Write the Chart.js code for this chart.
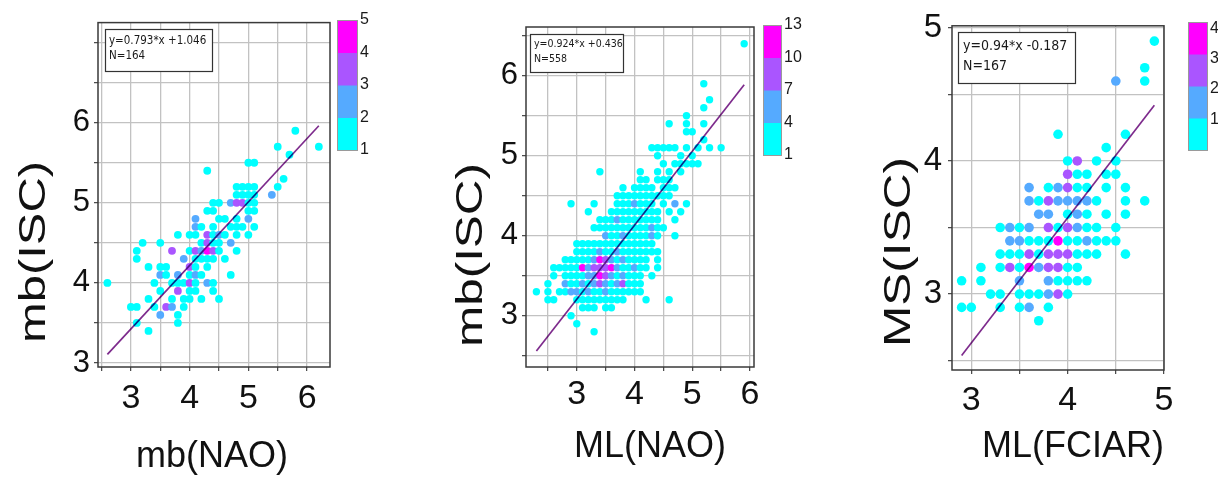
<!DOCTYPE html>
<html>
<head>
<meta charset="utf-8">
<script src="https://cdn.jsdelivr.net/npm/chart.js@4.4.1/dist/chart.umd.min.js"></script>
<style>
  html, body { margin: 0; padding: 0; background: #ffffff; }
  body { width: 1218px; height: 478px; position: relative; overflow: hidden; }
  canvas { position: absolute; top: 0; }
</style>
</head>
<body>
<canvas id="c1" width="400" height="478" style="left:0px;width:400px;height:478px"></canvas>
<canvas id="c2" width="410" height="478" style="left:400px;width:410px;height:478px"></canvas>
<canvas id="c3" width="408" height="478" style="left:810px;width:408px;height:478px"></canvas>
<script>
// ---- data: [magnitude on x, magnitude on y, events in the bin] ----
const mbNaoPoints = [
  [5.8,5.9,1],
  [6.2,5.7,1],[5.5,5.7,1],
  [5.7,5.6,1],
  [5.0,5.5,1],[5.1,5.5,1],
  [4.3,5.4,1],
  [5.6,5.3,1],
  [4.8,5.2,1],[4.9,5.2,1],[5.0,5.2,1],[5.1,5.2,1],[5.5,5.2,1],
  [4.8,5.1,1],[4.9,5.1,1],[5.0,5.1,1],[5.1,5.1,1],[5.4,5.1,2],
  [4.4,5.0,1],[4.5,5.0,1],[4.7,5.0,2],[4.8,5.0,3],[4.9,5.0,3],[5.0,5.0,1],[5.1,5.0,1],
  [4.3,4.9,1],[4.4,4.9,1],[5.0,4.9,1],[5.1,4.9,1],
  [4.1,4.8,2],[4.5,4.8,1],[4.6,4.8,1],[4.8,4.8,1],[5.0,4.8,2],
  [4.1,4.7,2],[4.2,4.7,1],[4.4,4.7,1],[4.7,4.7,1],[4.8,4.7,1],[4.9,4.7,1],[5.1,4.7,1],
  [3.8,4.6,1],[4.0,4.6,1],[4.1,4.6,1],[4.3,4.6,3],[4.4,4.6,1],[4.5,4.6,2],[4.6,4.6,1],[4.8,4.6,1],[5.0,4.6,1],
  [3.2,4.5,1],[3.5,4.5,1],[4.2,4.5,1],[4.3,4.5,3],[4.4,4.5,1],[4.5,4.5,1],[4.7,4.5,2],
  [3.1,4.4,1],[3.7,4.4,3],[4.0,4.4,1],[4.1,4.4,3],[4.2,4.4,2],[4.3,4.4,5],[4.4,4.4,3],[4.5,4.4,1],[4.8,4.4,1],
  [3.1,4.3,1],[3.9,4.3,2],[4.1,4.3,1],[4.2,4.3,1],[4.3,4.3,1],[4.4,4.3,1],[4.6,4.3,1],
  [3.3,4.2,1],[3.5,4.2,1],[3.6,4.2,1],[4.0,4.2,3],[4.1,4.2,1],[4.3,4.2,1],
  [3.5,4.1,2],[3.6,4.1,1],[3.8,4.1,2],[4.0,4.1,1],[4.1,4.1,2],[4.2,4.1,1],[4.7,4.1,1],
  [2.6,4.0,1],[3.4,4.0,1],[3.7,4.0,1],[3.8,4.0,1],[3.9,4.0,1],[4.0,4.0,3],[4.1,4.0,1],[4.3,4.0,2],[4.4,4.0,1],
  [3.5,3.9,1],[3.8,3.9,3],[4.0,3.9,1],[4.1,3.9,1],[4.4,3.9,1],
  [3.3,3.8,1],[3.7,3.8,1],[3.9,3.8,1],[4.0,3.8,1],[4.2,3.8,1],[4.5,3.8,1],
  [3.0,3.7,1],[3.1,3.7,1],[3.4,3.7,1],[3.6,3.7,3],[3.7,3.7,2],[3.9,3.7,1],
  [3.5,3.6,2],[3.8,3.6,1],
  [3.1,3.5,1],[3.8,3.5,1],
  [3.3,3.4,1]
];

const mlNaoPoints = [
  [5.9,6.4,1],
  [5.2,5.9,1],
  [5.3,5.7,1],
  [5.2,5.6,1],
  [4.9,5.5,1],
  [4.6,5.4,1],[4.9,5.4,1],[5.2,5.4,1],
  [4.9,5.3,1],[5.0,5.3,1],
  [5.2,5.2,1],
  [4.3,5.1,1],[4.4,5.1,1],[4.5,5.1,1],[4.6,5.1,1],[4.7,5.1,1],[4.9,5.1,1],[5.1,5.1,1],[5.3,5.1,1],[5.5,5.1,1],
  [4.4,5.0,1],[4.8,5.0,1],[5.0,5.0,1],
  [4.5,4.9,1],[4.7,4.9,1],[4.8,4.9,1],[4.9,4.9,1],[5.0,4.9,1],[5.1,4.9,1],
  [3.4,4.8,1],[4.1,4.8,1],[4.4,4.8,1],[4.6,4.8,1],[4.8,4.8,1],
  [4.1,4.7,1],[4.2,4.7,1],[4.4,4.7,1],[4.5,4.7,1],[4.6,4.7,1],
  [3.8,4.6,1],[4.0,4.6,1],[4.1,4.6,1],[4.2,4.6,1],[4.3,4.6,1],[4.5,4.6,1],[4.6,4.6,1],[4.7,4.6,1],
  [3.7,4.5,1],[3.8,4.5,1],[3.9,4.5,1],[4.0,4.5,1],[4.1,4.5,1],[4.2,4.5,1],[4.3,4.5,1],[4.4,4.5,1],[4.5,4.5,1],[4.6,4.5,1],
  [2.9,4.4,1],[3.3,4.4,1],[3.7,4.4,1],[3.8,4.4,1],[3.9,4.4,1],[4.0,4.4,5],[4.1,4.4,1],[4.2,4.4,1],[4.3,4.4,1],[4.5,4.4,1],[4.7,4.4,5],[4.9,4.4,1],
  [3.2,4.3,1],[3.6,4.3,1],[3.7,4.3,1],[3.8,4.3,1],[3.9,4.3,1],[4.0,4.3,1],[4.1,4.3,1],[4.2,4.3,1],[4.3,4.3,1],[4.4,4.3,1],[4.6,4.3,1],[4.8,4.3,1],
  [3.4,4.2,1],[3.5,4.2,1],[3.6,4.2,1],[3.7,4.2,5],[3.8,4.2,1],[3.9,4.2,1],[4.0,4.2,1],[4.1,4.2,1],[4.2,4.2,1],[4.3,4.2,1],[4.4,4.2,1],[4.7,4.2,1],
  [3.3,4.1,1],[3.4,4.1,1],[3.5,4.1,1],[3.6,4.1,1],[3.7,4.1,1],[3.8,4.1,1],[3.9,4.1,1],[4.0,4.1,1],[4.1,4.1,1],[4.2,4.1,1],[4.3,4.1,5],[4.4,4.1,1],[4.5,4.1,1],
  [3.5,4.0,5],[3.6,4.0,1],[3.7,4.0,1],[3.8,4.0,5],[3.9,4.0,1],[4.0,4.0,1],[4.1,4.0,1],[4.2,4.0,1],[4.3,4.0,5],[4.4,4.0,1],[4.7,4.0,1],
  [3.0,3.9,1],[3.1,3.9,1],[3.2,3.9,1],[3.3,3.9,1],[3.4,3.9,1],[3.5,3.9,1],[3.6,3.9,1],[3.7,3.9,1],[3.8,3.9,1],[3.9,3.9,1],[4.0,3.9,1],[4.1,3.9,1],[4.2,3.9,1],[4.3,3.9,1],
  [3.0,3.8,1],[3.1,3.8,1],[3.2,3.8,1],[3.3,3.8,1],[3.4,3.8,5],[3.5,3.8,1],[3.6,3.8,1],[3.7,3.8,5],[3.8,3.8,1],[3.9,3.8,1],[4.0,3.8,1],[4.1,3.8,1],[4.2,3.8,1],[4.3,3.8,1],[4.4,3.8,1],
  [2.8,3.7,1],[2.9,3.7,1],[3.0,3.7,1],[3.1,3.7,1],[3.2,3.7,1],[3.3,3.7,5],[3.4,3.7,11],[3.5,3.7,8],[3.6,3.7,5],[3.7,3.7,1],[3.8,3.7,5],[3.9,3.7,1],[4.0,3.7,1],[4.1,3.7,1],[4.2,3.7,1],[4.4,3.7,1],
  [2.6,3.6,1],[2.7,3.6,1],[2.8,3.6,1],[2.9,3.6,1],[3.0,3.6,1],[3.1,3.6,11],[3.2,3.6,5],[3.3,3.6,8],[3.4,3.6,8],[3.5,3.6,8],[3.6,3.6,11],[3.7,3.6,5],[3.8,3.6,1],[3.9,3.6,1],[4.0,3.6,5],[4.1,3.6,1],[4.2,3.6,1],[4.4,3.6,1],
  [2.6,3.5,1],[2.8,3.5,1],[2.9,3.5,1],[3.0,3.5,1],[3.1,3.5,1],[3.2,3.5,5],[3.3,3.5,5],[3.4,3.5,11],[3.5,3.5,8],[3.6,3.5,5],[3.7,3.5,1],[3.8,3.5,5],[3.9,3.5,1],[4.0,3.5,1],[4.1,3.5,1],[4.3,3.5,1],
  [2.5,3.4,1],[2.8,3.4,5],[2.9,3.4,1],[3.0,3.4,1],[3.1,3.4,5],[3.2,3.4,1],[3.3,3.4,5],[3.4,3.4,8],[3.5,3.4,5],[3.6,3.4,1],[3.7,3.4,5],[3.8,3.4,8],[3.9,3.4,1],[4.0,3.4,1],[4.1,3.4,1],
  [2.3,3.3,1],[2.5,3.3,1],[2.7,3.3,1],[2.8,3.3,1],[2.9,3.3,5],[3.0,3.3,5],[3.1,3.3,1],[3.2,3.3,5],[3.3,3.3,1],[3.4,3.3,1],[3.5,3.3,5],[3.6,3.3,1],[3.7,3.3,1],[3.8,3.3,1],[3.9,3.3,1],[4.0,3.3,1],[4.1,3.3,1],
  [2.5,3.2,1],[2.6,3.2,1],[3.0,3.2,1],[3.1,3.2,1],[3.2,3.2,1],[3.3,3.2,1],[3.4,3.2,1],[3.5,3.2,1],[3.6,3.2,1],[3.7,3.2,1],[3.8,3.2,1],[4.2,3.2,1],[4.6,3.2,1],
  [3.1,3.1,1],[3.2,3.1,1],[3.3,3.1,1],[3.5,3.1,1],[3.6,3.1,1],
  [2.9,3.0,1],
  [3.0,2.9,1],
  [3.3,2.8,1]
];

const mlFciarPoints = [
  [4.9,4.9,1],
  [4.8,4.7,1],
  [4.5,4.6,2],[4.8,4.6,1],
  [3.9,4.2,1],[4.6,4.2,1],
  [4.4,4.1,1],
  [4.0,4.0,1],[4.1,4.0,3],[4.3,4.0,1],[4.5,4.0,1],
  [4.0,3.9,3],[4.1,3.9,1],[4.2,3.9,1],[4.4,3.9,1],[4.5,3.9,1],
  [3.6,3.8,2],[3.8,3.8,1],[3.9,3.8,2],[4.0,3.8,3],[4.1,3.8,1],[4.2,3.8,1],[4.4,3.8,1],[4.6,3.8,1],
  [3.6,3.7,2],[3.7,3.7,1],[3.8,3.7,3],[3.9,3.7,2],[4.0,3.7,2],[4.1,3.7,2],[4.2,3.7,2],[4.3,3.7,1],[4.6,3.7,1],[4.8,3.7,1],
  [3.7,3.6,2],[3.8,3.6,2],[4.0,3.6,1],[4.1,3.6,2],[4.2,3.6,1],[4.4,3.6,1],[4.6,3.6,1],
  [3.3,3.5,1],[3.4,3.5,2],[3.5,3.5,1],[3.6,3.5,2],[3.8,3.5,3],[3.9,3.5,1],[4.0,3.5,3],[4.1,3.5,2],[4.2,3.5,1],[4.3,3.5,1],[4.5,3.5,1],
  [3.4,3.4,2],[3.5,3.4,2],[3.6,3.4,1],[3.7,3.4,1],[3.8,3.4,1],[3.9,3.4,4],[4.0,3.4,1],[4.1,3.4,1],[4.2,3.4,2],[4.3,3.4,1],[4.4,3.4,1],[4.5,3.4,1],
  [3.3,3.3,1],[3.4,3.3,1],[3.5,3.3,1],[3.6,3.3,3],[3.7,3.3,1],[3.8,3.3,3],[3.9,3.3,3],[4.0,3.3,3],[4.1,3.3,1],[4.2,3.3,1],[4.3,3.3,1],[4.6,3.3,1],
  [3.1,3.2,1],[3.3,3.2,1],[3.4,3.2,3],[3.5,3.2,1],[3.6,3.2,4],[3.7,3.2,2],[3.8,3.2,3],[3.9,3.2,3],[4.0,3.2,1],[4.1,3.2,1],
  [2.9,3.1,1],[3.1,3.1,1],[3.5,3.1,2],[3.8,3.1,2],[3.9,3.1,1],[4.0,3.1,1],[4.1,3.1,1],[4.2,3.1,1],
  [3.2,3.0,1],[3.3,3.0,1],[3.5,3.0,1],[3.6,3.0,1],[3.7,3.0,1],[3.8,3.0,2],[3.9,3.0,3],[4.0,3.0,1],
  [2.9,2.9,1],[3.0,2.9,1],[3.3,2.9,1],[3.5,2.9,1],[3.6,2.9,2],[3.8,2.9,1],
  [3.7,2.8,1]
];

// regression fits and sample sizes
const fitSlopes = [0.793, 0.924, 0.94];
const fitIntercepts = [1.046, 0.436, -0.187];
const sampleSizes = [164, 558, 167];

// axis titles and labelled ticks
const xTitles = ['mb(NAO)', 'ML(NAO)', 'ML(FCIAR)'];
const yTitles = ['mb(ISC)', 'mb(ISC)', 'MS(ISC)'];
const xTickLabels = [[3, 4, 5, 6], [3, 4, 5, 6], [3, 4, 5]];
const yTickLabels = [[3, 4, 5, 6], [3, 4, 5, 6], [3, 4, 5]];

// colour bar: band edges (events per bin) and labelled values
const colorbarEdges = [[1, 2, 3, 4, 5], [1, 4, 7, 10, 13], [0, 1.05, 2.1, 3.15, 4.2]];
const colorbarTicks = [[1, 2, 3, 4, 5], [1, 4, 7, 10, 13], [1, 2, 3, 4]];

// ---- appearance ----
const bandColors = ['#00FFFF', '#55AAFF', '#AA55FF', '#FF00FF'];
const mainFont = '"Liberation Sans", Arial, Helvetica, sans-serif';
const boxFont = '"DejaVu Sans Condensed", "Liberation Sans Narrow", "DejaVu Sans", sans-serif';
const gridStep = 0.5;

const frames = [
  { canvas: 'c1', offset: 0, width: 400, area: { l: 98, r: 330, t: 20, b: 367 },
    xRange: [2.44, 6.39], yRange: [2.95, 7.25], radius: 3.9,
    xTickFont: 34, yTickFont: 31, xTickPad: 7, yTickPad: 4,
    box: { x: 105, y: 29, w: 107, h: 42, tx: 109, l1: 41, l2: 56, font: 11.5 },
    bar: { x: 337, y: 20, w: 20, h: 130 },
    xTitle: { x: 212, y: 467 }, yTitle: { x: 45, y: 252, len: 182 } },
  { canvas: 'c2', offset: 400, width: 410, area: { l: 526, r: 754, t: 27, b: 367 },
    xRange: [2.12, 6.07], yRange: [2.36, 6.61], radius: 3.7,
    xTickFont: 34, yTickFont: 31, xTickPad: 3, yTickPad: 4,
    box: { x: 530, y: 34, w: 93, h: 38, tx: 534, l1: 44, l2: 59, font: 10.5 },
    bar: { x: 763, y: 25, w: 18, h: 130 },
    xTitle: { x: 650, y: 457 }, yTitle: { x: 482, y: 255, len: 184 } },
  { canvas: 'c3', offset: 810, width: 408, area: { l: 952, r: 1164, t: 23, b: 370 },
    xRange: [2.80, 5.0], yRange: [2.43, 5.015], radius: 4.8,
    xTickFont: 34, yTickFont: 33, xTickPad: 6, yTickPad: 6,
    box: { x: 958, y: 32, w: 117, h: 51, tx: 963, l1: 46, l2: 66, font: 14 },
    bar: { x: 1188, y: 22, w: 19, h: 128 },
    xTitle: { x: 1073, y: 457 }, yTitle: { x: 910, y: 252, len: 190 } }
];

const panelPoints = [mbNaoPoints, mlNaoPoints, mlFciarPoints];

function bandColor(count, edges) {
  for (let i = edges.length - 2; i > 0; i--) {
    if (count >= edges[i]) return bandColors[i];
  }
  return bandColors[0];
}

function isLabelled(v, list) {
  const r = Math.round(v);
  return Math.abs(v - r) < 1e-6 && list.includes(r);
}

// grid ticks at every half unit inside the axis range
function halfSteps(lo, hi) {
  const out = [];
  for (let i = Math.ceil(lo / gridStep - 1e-9); i * gridStep <= hi + 1e-9; i++) {
    out.push({ value: Math.round(i * gridStep * 10) / 10 });
  }
  return out;
}

function decorations(k, f) {
  return {
    id: 'decor' + k,
    beforeDatasetDraw(chart, args) {
      if (args.meta.type === 'line') {
        chart.ctx.save();
        chart.ctx.globalCompositeOperation = 'multiply';
      }
    },
    afterDatasetDraw(chart, args) {
      if (args.meta.type === 'line') chart.ctx.restore();
    },
    afterDraw(chart) {
      const ctx = chart.ctx;
      const a = chart.chartArea;
      const o = f.offset;
      ctx.save();

      // plot frame
      ctx.strokeStyle = '#3a3a3a';
      ctx.lineWidth = 1.5;
      ctx.strokeRect(a.left, a.top, a.right - a.left, a.bottom - a.top);

      // fit summary box
      const b = f.box;
      ctx.fillStyle = '#ffffff';
      ctx.fillRect(b.x - o, b.y, b.w, b.h);
      ctx.strokeStyle = '#333333';
      ctx.lineWidth = 1.2;
      ctx.strokeRect(b.x - o + 0.5, b.y + 0.5, b.w, b.h);
      const s = fitSlopes[k], c = fitIntercepts[k];
      ctx.fillStyle = '#1a1a1a';
      ctx.font = b.font + 'px ' + boxFont;
      ctx.textAlign = 'left';
      ctx.textBaseline = 'middle';
      ctx.fillText('y=' + s + '*x ' + (c >= 0 ? '+' : '') + c, b.tx - o, b.l1);
      ctx.fillText('N=' + sampleSizes[k], b.tx - o, b.l2);

      // colour bar
      const bar = f.bar;
      const edges = colorbarEdges[k];
      const nb = bandColors.length;
      for (let i = 0; i < nb; i++) {
        const y0 = bar.y + bar.h - (i + 1) * bar.h / nb;
        ctx.fillStyle = bandColors[i];
        ctx.fillRect(bar.x - o, y0, bar.w, bar.h / nb + 0.5);
      }
      ctx.strokeStyle = '#9a9a9a';
      ctx.lineWidth = 1;
      ctx.strokeRect(bar.x - o + 0.5, bar.y + 0.5, bar.w, bar.h);
      const lo = edges[0], hi = edges[edges.length - 1];
      ctx.fillStyle = '#1a1a1a';
      ctx.font = '16px ' + mainFont;
      ctx.textBaseline = 'middle';
      colorbarTicks[k].forEach(v => {
        const y = bar.y + bar.h - (v - lo) / (hi - lo) * bar.h;
        ctx.fillText(String(v), bar.x - o + bar.w + 3, y);
      });

      // axis titles
      ctx.fillStyle = '#111111';
      ctx.font = '36px ' + mainFont;
      ctx.textAlign = 'center';
      ctx.textBaseline = 'alphabetic';
      ctx.fillText(xTitles[k], f.xTitle.x - o, f.xTitle.y);

      ctx.font = '37px ' + mainFont;
      const w = ctx.measureText(yTitles[k]).width;
      ctx.translate(f.yTitle.x - o, f.yTitle.y);
      ctx.rotate(-Math.PI / 2);
      ctx.scale(f.yTitle.len / w, 1);
      ctx.fillText(yTitles[k], 0, 0);

      ctx.restore();
    }
  };
}

frames.forEach((f, k) => {
  const pts = panelPoints[k];
  const xs = pts.map(p => p[0]);
  const xMin = Math.min(...xs), xMax = Math.max(...xs);
  const s = fitSlopes[k], c = fitIntercepts[k];
  const grid = { color: '#c2c2c2', lineWidth: 1.3, drawTicks: true, tickLength: 4, tickColor: '#444444', tickWidth: 1.2 };

  new Chart(document.getElementById(f.canvas), {
    type: 'scatter',
    data: {
      datasets: [
        {
          type: 'line',
          label: 'fit',
          data: [{ x: xMin, y: s * xMin + c }, { x: xMax, y: s * xMax + c }],
          borderColor: '#7d2a8c',
          borderWidth: 1.7,
          pointRadius: 0,
          fill: false,
          tension: 0,
          order: 0
        },
        {
          label: 'events',
          data: pts.map(p => ({ x: p[0], y: p[1] })),
          pointBackgroundColor: pts.map(p => bandColor(p[2], colorbarEdges[k])),
          pointBorderWidth: 0,
          pointRadius: f.radius,
          order: 1
        }
      ]
    },
    options: {
      responsive: false,
      animation: false,
      events: [],
      layout: { padding: { left: 0, top: f.area.t, right: f.offset + f.width - f.area.r, bottom: 0 } },
      plugins: { legend: { display: false }, tooltip: { enabled: false } },
      scales: {
        x: {
          type: 'linear',
          min: f.xRange[0], max: f.xRange[1],
          bounds: 'data',
          afterBuildTicks: sc => { sc.ticks = halfSteps(f.xRange[0], f.xRange[1]); },
          afterFit: sc => { sc.height = 478 - f.area.b; },
          border: { display: false },
          grid: grid,
          ticks: {
            autoSkip: false, maxRotation: 0, minRotation: 0,
            padding: f.xTickPad, color: '#111111',
            font: { family: mainFont, size: f.xTickFont },
            callback: v => isLabelled(v, xTickLabels[k]) ? String(Math.round(v)) : ''
          }
        },
        y: {
          type: 'linear',
          min: f.yRange[0], max: f.yRange[1],
          bounds: 'data',
          afterBuildTicks: sc => { sc.ticks = halfSteps(f.yRange[0], f.yRange[1]); },
          afterFit: sc => { sc.width = f.area.l - f.offset; },
          border: { display: false },
          grid: grid,
          ticks: {
            autoSkip: false,
            padding: f.yTickPad, color: '#111111',
            font: { family: mainFont, size: f.yTickFont },
            callback: v => isLabelled(v, yTickLabels[k]) ? String(Math.round(v)) : ''
          }
        }
      }
    },
    plugins: [decorations(k, f)]
  });
});
</script>
</body>
</html>
